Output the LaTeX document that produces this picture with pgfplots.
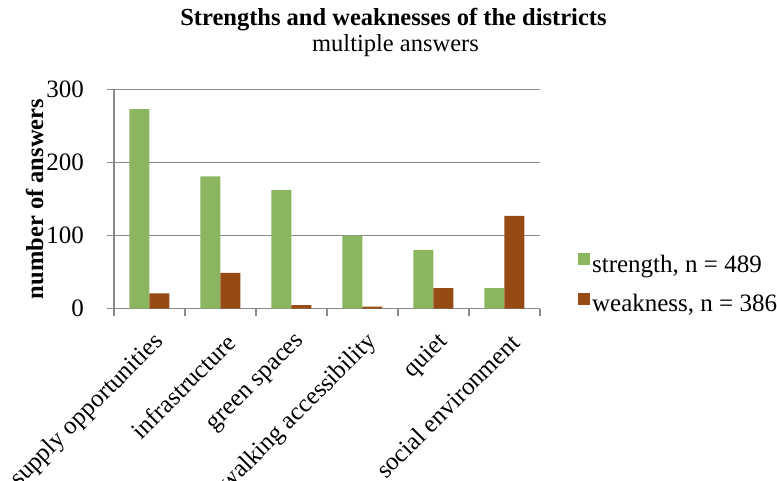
\documentclass[border=0pt]{standalone}
\usepackage{fontspec}
\setmainfont{Liberation Serif}
\usepackage{pgfplots}
\pgfplotsset{compat=1.18}

\definecolor{strengthgreen}{HTML}{8BB55F}
\definecolor{weakbrown}{HTML}{954B13}
\definecolor{axisgray}{HTML}{8A8A8A}

\newcommand{\chartfont}{\fontsize{25}{30}\selectfont}
\newcommand{\titlefont}{\fontsize{24.5}{29}\selectfont}

\begin{document}
\begin{tikzpicture}[x=1pt,y=1pt]
\useasboundingbox (0,0) rectangle (777,481);

\node[font=\bfseries\titlefont, anchor=base] at (393.5,455) {Strengths and weaknesses of the districts};
\node[font=\titlefont, anchor=base] at (395.5,429) {multiple answers};

\begin{axis}[
  at={(114pt,172.3pt)}, anchor=south west,
  scale only axis, width=426pt, height=219.4pt,
  ybar=0pt, bar width=20pt,
  xmin=-0.5, xmax=5.5, ymin=0, ymax=300,
  axis lines*=left,
  axis line style={axisgray, line width=1.3pt},
  ytick={0,100,200,300},
  ymajorgrids, grid style={axisgray, line width=1.3pt},
  xtick={-0.5,0.5,...,5.5},
  x tick label as interval,
  xticklabels={supply opportunities, infrastructure, green spaces, walking accessibility, quiet, social environment, {}},
  tick align=outside, major tick length=7pt,
  tick style={axisgray, line width=1.3pt},
  /pgf/number format/assume math mode=true,
  tick label style={font=\chartfont, black},
  yticklabel style={anchor=east, inner sep=0pt, xshift=-23pt},
  xticklabel style={xshift=13pt, yshift=-20.5pt, rotate=45, anchor=east},
  ylabel={number of answers},
  every axis y label/.style={at={(axis description cs:-0.1862,0.5)}, anchor=center, rotate=90,
    font=\bfseries\titlefont},
  legend style={at={(axis description cs:1.089,0.112)}, anchor=west, draw=none, fill=none,
    inner sep=0pt, font=\chartfont, row sep=17pt,
    /tikz/every even column/.append style={column sep=5pt}},
  legend cell align=left,
]
\addplot[fill=strengthgreen, draw=none,
  legend image code/.code={\fill[strengthgreen] (0pt,-1pt) rectangle (12pt,11pt);}]
  coordinates {(0,273) (1,181) (2,162) (3,100) (4,80) (5,28)};
\addplot[fill=weakbrown, draw=none,
  legend image code/.code={\fill[weakbrown] (0pt,-1pt) rectangle (12pt,11pt);}]
  coordinates {(0,21) (1,49) (2,5) (3,3) (4,28) (5,127)};
\legend{{strength, n = 489}, {weakness, n = 386}}
\end{axis}
\end{tikzpicture}
\end{document}
